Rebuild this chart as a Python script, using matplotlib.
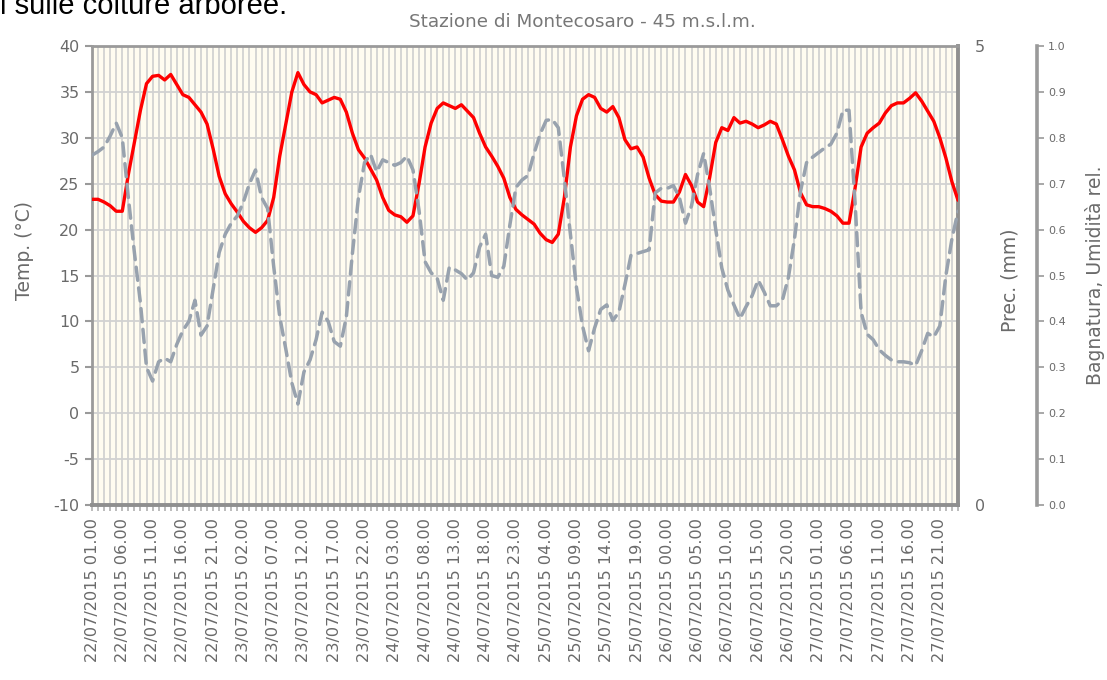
import matplotlib
matplotlib.use("Agg")
import matplotlib.pyplot as plt
from matplotlib.ticker import MultipleLocator

# ---------------- data (hourly, 22/07/2015 01.00 -> 27/07/2015 24.00) ----------------
hours = list(range(144))

temperature = [
    23.3, 23.3, 23.0, 22.6, 22.0, 22.0, 26.0, 29.5, 33.0, 35.9,
    36.7, 36.8, 36.3, 36.9, 35.8, 34.7, 34.4, 33.6, 32.8, 31.5,
    28.8, 25.8, 23.9, 22.8, 21.9, 20.9, 20.2, 19.7, 20.2, 21.0,
    23.5, 28.0, 31.5, 35.0, 37.1, 35.8, 35.0, 34.7, 33.8, 34.1,
    34.4, 34.2, 32.8, 30.5, 28.7, 27.8, 26.6, 25.4, 23.5, 22.1,
    21.6, 21.4, 20.8, 21.5, 25.0, 29.0, 31.6, 33.2, 33.8, 33.5,
    33.2, 33.6, 32.9, 32.2, 30.5, 29.0, 28.0, 26.9, 25.6, 23.5,
    22.2, 21.6, 21.1, 20.6, 19.6, 18.9, 18.6, 19.5, 23.5, 29.0,
    32.4, 34.2, 34.7, 34.4, 33.2, 32.8, 33.4, 32.2, 29.8, 28.8,
    29.0, 27.9, 25.6, 23.8, 23.1, 23.0, 23.0, 24.1, 26.0, 24.8,
    23.0, 22.5, 25.7, 29.5, 31.1, 30.8, 32.2, 31.6, 31.8, 31.5,
    31.1, 31.4, 31.8, 31.5, 29.8, 28.0, 26.5, 24.0, 22.7, 22.5,
    22.5, 22.3, 22.0, 21.5, 20.7, 20.7, 24.5, 29.0, 30.5, 31.1,
    31.6, 32.7, 33.5, 33.8, 33.8, 34.3, 34.9, 34.0, 32.9, 31.8,
    30.0, 27.8, 25.2, 23.2,
]

humidity = [
    0.762, 0.770, 0.780, 0.804, 0.832, 0.800, 0.670, 0.550, 0.440, 0.300,
    0.270, 0.312, 0.320, 0.312, 0.350, 0.380, 0.400, 0.446, 0.370, 0.390,
    0.470, 0.550, 0.590, 0.614, 0.630, 0.660, 0.700, 0.730, 0.670, 0.646,
    0.520, 0.410, 0.340, 0.266, 0.220, 0.290, 0.316, 0.360, 0.420, 0.400,
    0.356, 0.346, 0.410, 0.548, 0.670, 0.746, 0.764, 0.726, 0.752, 0.746,
    0.740, 0.746, 0.760, 0.730, 0.642, 0.530, 0.506, 0.494, 0.446, 0.518,
    0.512, 0.504, 0.490, 0.506, 0.562, 0.590, 0.500, 0.496, 0.520, 0.610,
    0.692, 0.708, 0.718, 0.766, 0.808, 0.838, 0.840, 0.822, 0.710, 0.590,
    0.474, 0.390, 0.336, 0.386, 0.426, 0.436, 0.402, 0.420, 0.480, 0.544,
    0.548, 0.552, 0.556, 0.680, 0.690, 0.690, 0.696, 0.670, 0.614, 0.652,
    0.720, 0.766, 0.690, 0.600, 0.516, 0.468, 0.436, 0.406, 0.432, 0.456,
    0.490, 0.464, 0.434, 0.434, 0.446, 0.496, 0.580, 0.684, 0.746, 0.758,
    0.768, 0.778, 0.786, 0.810, 0.860, 0.860, 0.660, 0.420, 0.372, 0.360,
    0.338, 0.326, 0.316, 0.312, 0.312, 0.310, 0.304, 0.336, 0.374, 0.366,
    0.390, 0.500, 0.580, 0.640,
]

tick_positions = list(range(0, 144, 5))
tick_labels = [
    "22/07/2015 01.00", "22/07/2015 06.00", "22/07/2015 11.00", "22/07/2015 16.00", "22/07/2015 21.00",
    "23/07/2015 02.00", "23/07/2015 07.00", "23/07/2015 12.00", "23/07/2015 17.00", "23/07/2015 22.00",
    "24/07/2015 03.00", "24/07/2015 08.00", "24/07/2015 13.00", "24/07/2015 18.00", "24/07/2015 23.00",
    "25/07/2015 04.00", "25/07/2015 09.00", "25/07/2015 14.00", "25/07/2015 19.00",
    "26/07/2015 00.00", "26/07/2015 05.00", "26/07/2015 10.00", "26/07/2015 15.00", "26/07/2015 20.00",
    "27/07/2015 01.00", "27/07/2015 06.00", "27/07/2015 11.00", "27/07/2015 16.00", "27/07/2015 21.00",
]
temp_ticks = [-10, -5, 0, 5, 10, 15, 20, 25, 30, 35, 40]
prec_ticks = [0, 5]
hum_ticks = [0.0, 0.1, 0.2, 0.3, 0.4, 0.5, 0.6, 0.7, 0.8, 0.9, 1.0]

title = "Stazione di Montecosaro - 45 m.s.l.m."
caption = "i sulle colture arboree."

# ---------------- styling ----------------
W, H = 1107, 680
GREY_TXT = "#6a6a6a"
FRAME = "#9a9a9a"
GRID = "#d2d2d2"

plt.rcParams["font.family"] = ["DejaVu Sans"]
plt.rcParams["axes.unicode_minus"] = False

fig = plt.figure(figsize=(W / 100, H / 100), dpi=100)
fig.patch.set_facecolor("white")

L, R, T, B = 92, 958, 46, 505
ax = fig.add_axes([L / W, 1 - B / H, (R - L) / W, (B - T) / H])
ax.set_facecolor("#fffcf0")

ax.set_xlim(0, 143)
ax.set_ylim(-10, 40)

ax.set_xticks(tick_positions)
ax.set_xticklabels(tick_labels, rotation=90, fontsize=11.6, color=GREY_TXT)
ax.xaxis.set_minor_locator(MultipleLocator(1))
ax.set_yticks(temp_ticks)
ax.tick_params(axis="y", labelsize=11.5, labelcolor=GREY_TXT, color=FRAME,
               length=5, width=1.5, pad=4)
ax.tick_params(axis="x", which="both", length=4, width=1.2, color="#b0b0b0", pad=5)

ax.grid(True, which="both", axis="x", color=GRID, linewidth=1.3)
ax.grid(True, which="major", axis="y", color=GRID, linewidth=1.3)
ax.set_axisbelow(True)

for side in ["left", "top"]:
    ax.spines[side].set_color(FRAME)
    ax.spines[side].set_linewidth(2.0)
for side in ["right", "bottom"]:
    ax.spines[side].set_color("#8f8f8f")
    ax.spines[side].set_linewidth(2.8)

ax.plot(hours, temperature, color="#ff0000", linewidth=2.4,
        solid_joinstyle="round", solid_capstyle="round", zorder=3)

# precipitation axis
ax2 = ax.twinx()
ax2.set_ylim(0, 5)
ax2.set_yticks(prec_ticks)
ax2.tick_params(axis="y", labelsize=11.5, labelcolor=GREY_TXT, length=0, pad=12)
for s in ax2.spines.values():
    s.set_visible(False)

# wetness / humidity axis
ax3 = ax.twinx()
ax3.set_ylim(0, 1)
for s in ["top", "bottom", "left"]:
    ax3.spines[s].set_visible(False)
ax3.spines["right"].set_position(("axes", (1037 - L) / (R - L)))
ax3.spines["right"].set_color(FRAME)
ax3.spines["right"].set_linewidth(2.6)
ax3.set_yticks(hum_ticks)
ax3.set_yticklabels([f"{v:.1f}" for v in hum_ticks])
ax3.tick_params(axis="y", labelsize=8, labelcolor=GREY_TXT, color=FRAME,
                length=5, width=1.2, pad=3)

ax3.plot(hours, humidity, color="#98a2ae", linewidth=2.5, dashes=(3.8, 2.2),
         dash_capstyle="round", zorder=4)

# axis titles (placed explicitly)
lab = dict(rotation=90, ha="center", va="center", fontsize=13.5, color=GREY_TXT)
fig.text(25 / W, 1 - 251 / H, "Temp. (°C)", **lab)
fig.text(1010 / W, 1 - 280 / H, "Prec. (mm)", **lab)
fig.text(1095 / W, 1 - 275 / H, "Bagnatura, Umidità rel.", **lab)

fig.text(582 / W, 1 - 22 / H, title, ha="center", va="center",
         fontsize=13.2, color="#777777")
fig.text(0.0, 1 - 14 / H, caption, ha="left", va="baseline",
         fontsize=21, color="black", family="Liberation Sans")

fig.savefig("out.png", dpi=100, facecolor="white")
